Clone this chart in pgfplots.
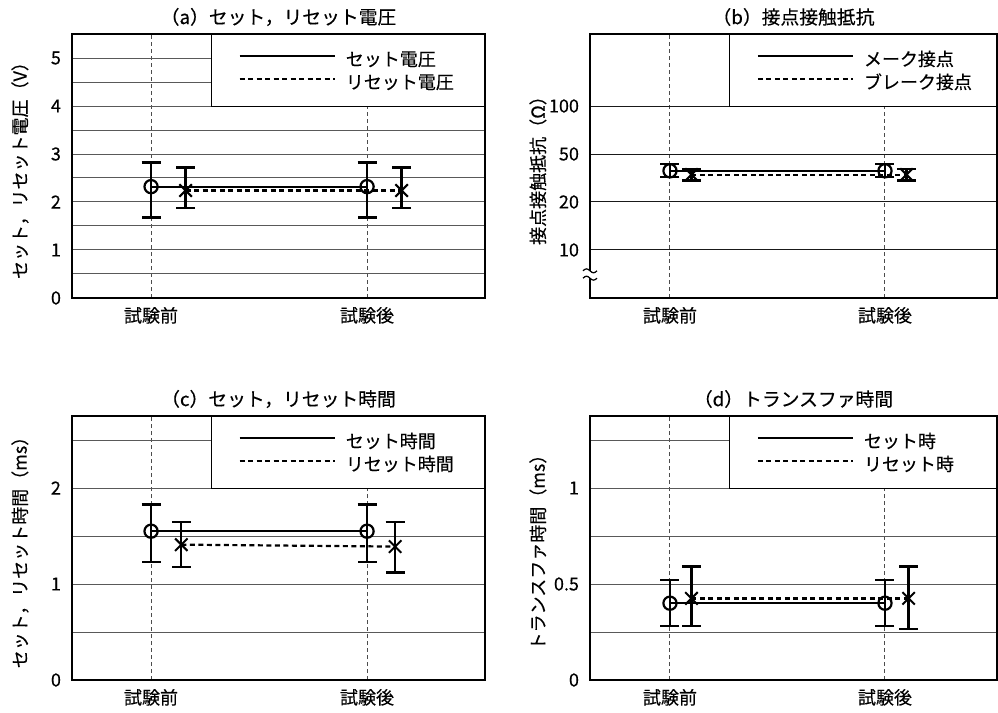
\documentclass[border=0pt]{standalone}
\usepackage{fontspec}
\setmainfont{Noto Sans CJK JP}[FakeBold=0.3]
\usepackage{pgfplots}
\pgfplotsset{compat=1.18}

\pgfplotsset{
  panel/.style={
    scale only axis, height=132pt,
    clip=false,
    axis line style={line width=1.1pt},
    font=\fontsize{9pt}{10pt}\selectfont,
    /pgf/number format/assume math mode=true,
    major tick length=0pt, minor tick length=0pt,
    xtick={1,2}, xticklabels={試験前,試験後},
    xmajorgrids, ymajorgrids,
    x grid style={black!70, line width=0.5pt, dash pattern=on 2pt off 1.5pt},
    y grid style={black!65, line width=0.5pt},
    minor y grid style={black!65, line width=0.5pt},
    title style={at={(axis description cs:0.5,1)}, anchor=center, yshift=2.5pt,
      font=\fontsize{9.4pt}{10pt}\selectfont},
    yticklabel style={xshift=-2pt},
    xticklabel style={yshift=-1pt},
    legend cell align=left,
    legend style={draw=none, fill=none, anchor=west, column sep=5pt, row sep=3.5pt,
      nodes={inner sep=0pt, text height=6.5pt, text depth=1.5pt}},
    legend image code/.code={\draw[##1] (0pt,0.25em) -- (47.5pt,0.25em);},
  },
  left panel/.style={panel, width=206.5pt, xmin=0.634, xmax=2.546,
    ylabel style={at={(axis description cs:-0.126,0.5)}, anchor=center},
    legend style={at={(axis description cs:0.388,0.855)}}},
  right panel/.style={panel, width=203.5pt, xmin=0.628, xmax=2.521,
    ylabel style={at={(axis description cs:-0.128,0.5)}, anchor=center},
    legend style={at={(axis description cs:0.394,0.855)}}},
  setser/.style={forget plot, black, line width=1.1pt, mark=o, mark size=3.3pt,
    mark options={fill=white, solid},
    error bars/.cd, y dir=both, y explicit,
    error bar style={line width=1.2pt, solid},
    error mark options={rotate=90, mark size=4.75pt, line width=1.2pt}},
  resetser/.style={forget plot, black, line width=1.1pt, dash pattern=on 2.5pt off 1.75pt,
    mark=x, mark size=4.4pt, mark options={solid, line width=1pt},
    error bars/.cd, y dir=both, y explicit,
    error bar style={line width=1.2pt, solid},
    error mark options={rotate=90, mark size=4.75pt, line width=1.2pt}},
}

\begin{document}
\begin{tikzpicture}

% (a)
\begin{axis}[left panel, at={(36pt,-17pt)}, anchor=north west,
  ymin=0, ymax=5.5, ytick={0,1,2,3,4,5}, minor ytick={0.5,1.5,2.5,3.5,4.5}, yminorgrids,
  title={（a）セット，リセット電圧}, ylabel={セット，リセット電圧（V）}]
\draw[line width=0.5pt, fill=white] (axis cs:1.28,4) rectangle (rel axis cs:1,1);
\addplot[setser] coordinates {(1,2.32) += (0,0.50) -= (0,0.64) (2,2.32) += (0,0.50) -= (0,0.64)};
\addplot[resetser] coordinates {(1.16,2.24) += (0,0.48) -= (0,0.36) (2.16,2.24) += (0,0.48) -= (0,0.36)};
\addlegendimage{black, line width=1.1pt}
\addlegendentry{セット電圧}
\addlegendimage{black, line width=1.1pt, dash pattern=on 2.5pt off 1.75pt}
\addlegendentry{リセット電圧}
\draw[line width=1.1pt] (rel axis cs:0,0) rectangle (rel axis cs:1,1);
\end{axis}

% (b) y positions: 1=10, 2=20, 3=50, 4=100 ohm
\begin{axis}[right panel, at={(295pt,-17pt)}, anchor=north west,
  ymin=0, ymax=5.5, ytick={1,2,3,4}, yticklabels={10,20,50,100},
  y grid style={black!90, line width=0.5pt},
  title={（b）接点接触抵抗}, ylabel={接点接触抵抗（Ω）}]
\draw[line width=0.5pt, fill=white] (axis cs:1.279,4) rectangle (rel axis cs:1,1);
\addplot[setser] coordinates {(1,2.65) += (0,0.14) -= (0,0.13) (2,2.65) += (0,0.14) -= (0,0.13)};
\addplot[resetser] coordinates {(1.10,2.57) += (0,0.12) -= (0,0.12) (2.10,2.57) += (0,0.12) -= (0,0.12)};
\addlegendimage{black, line width=1.1pt}
\addlegendentry{メーク接点}
\addlegendimage{black, line width=1.1pt, dash pattern=on 2.5pt off 1.75pt}
\addlegendentry{ブレーク接点}
\draw[line width=1.1pt] (rel axis cs:0,0) rectangle (rel axis cs:1,1);
\fill[white] ([xshift=-1.5pt]rel axis cs:0,0.075) rectangle ([xshift=1.5pt]rel axis cs:0,0.103);
\draw[line width=0.6pt] ([xshift=-3.5pt]rel axis cs:0,0.075) sin ++(1.75pt,1pt) cos ++(1.75pt,-1pt) sin ++(1.75pt,-1pt) cos ++(1.75pt,1pt);
\draw[line width=0.6pt] ([xshift=-3.5pt]rel axis cs:0,0.103) sin ++(1.75pt,1pt) cos ++(1.75pt,-1pt) sin ++(1.75pt,-1pt) cos ++(1.75pt,1pt);
\end{axis}

% (c)
\begin{axis}[left panel, at={(36pt,-208pt)}, anchor=north west,
  ymin=0, ymax=2.75, ytick={0,1,2}, minor ytick={0.5,1.5,2.5}, yminorgrids,
  title={（c）セット，リセット時間}, ylabel={セット，リセット時間（ms）}]
\draw[line width=0.5pt, fill=white] (axis cs:1.28,2) rectangle (rel axis cs:1,1);
\addplot[setser] coordinates {(1,1.55) += (0,0.28) -= (0,0.32) (2,1.55) += (0,0.28) -= (0,0.32)};
\addplot[resetser] coordinates {(1.14,1.41) += (0,0.235) -= (0,0.23) (2.13,1.39) += (0,0.255) -= (0,0.27)};
\addlegendimage{black, line width=1.1pt}
\addlegendentry{セット時間}
\addlegendimage{black, line width=1.1pt, dash pattern=on 2.5pt off 1.75pt}
\addlegendentry{リセット時間}
\draw[line width=1.1pt] (rel axis cs:0,0) rectangle (rel axis cs:1,1);
\end{axis}

% (d)
\begin{axis}[right panel, at={(295pt,-208pt)}, anchor=north west,
  ymin=0, ymax=1.375, ytick={0,0.5,1}, minor ytick={0.25,0.75,1.25}, yminorgrids,
  title={（d）トランスファ時間}, ylabel={トランスファ時間（ms）}]
\draw[line width=0.5pt, fill=white] (axis cs:1.279,1) rectangle (rel axis cs:1,1);
\addplot[setser] coordinates {(1,0.40) += (0,0.12) -= (0,0.12) (2,0.40) += (0,0.12) -= (0,0.12)};
\addplot[resetser] coordinates {(1.10,0.425) += (0,0.167) -= (0,0.145) (2.11,0.425) += (0,0.167) -= (0,0.159)};
\addlegendimage{black, line width=1.1pt}
\addlegendentry{セット時}
\addlegendimage{black, line width=1.1pt, dash pattern=on 2.5pt off 1.75pt}
\addlegendentry{リセット時}
\draw[line width=1.1pt] (rel axis cs:0,0) rectangle (rel axis cs:1,1);
\end{axis}

\pgfresetboundingbox
\path[use as bounding box] (0pt,-356.5pt) rectangle (499pt,0pt);
\end{tikzpicture}
\end{document}
